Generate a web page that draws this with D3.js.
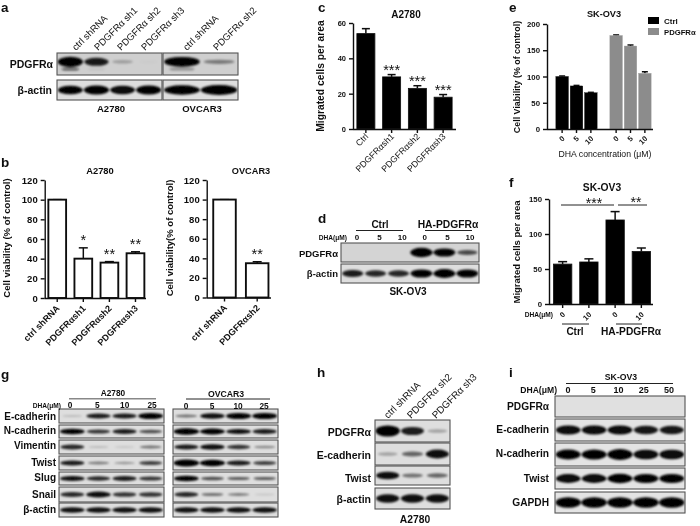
<!DOCTYPE html>
<meta charset="utf-8">
<style>
body{margin:0;background:#fff;}
svg{display:block;}
text{font-family:"Liberation Sans",Arial,sans-serif;fill:#111;}
.b{font-weight:bold;}
.axis path,.axis line{stroke:#111;stroke-width:1.4px;}
.axis text{font-family:"Liberation Sans",Arial,sans-serif;font-weight:bold;fill:#111;}
</style>
<body>
<script src="https://d3js.org/d3.v7.min.js"></script>
<script>
// panel b
var bLabels1=["ctrl shRNA","PDGFRαsh1","PDGFRαsh2","PDGFRαsh3"];
var bValues1=[100,40,36,45.5];
var bErrors1=[0,11,1,1.5];
var bStars1=["","*","**","**"];
var bLabels2=["ctrl shRNA","PDGFRαsh2"];
var bValues2=[100,35];
var bErrors2=[0,1.5];
var bStars2=["","**"];
var bTicks=[0,20,40,60,80,100,120];
// panel c
var cLabels=["Ctrl","PDGFRαsh1","PDGFRαsh2","PDGFRαsh3"];
var cValues=[54,29.5,23,18];
var cErrors=[2.8,1.3,1.5,1.5];
var cStars=["","***","***","***"];
var cTicks=[0,20,40,60];
// panel e
var eDoses=["0","5","10"];
var eCtrl=[100,82,69];
var eCtrlErr=[1,1,0.8];
var ePdgfr=[178,158,106];
var ePdgfrErr=[1.2,2,3];
var eTicks=[0,50,100,150,200];
// panel f
var fLabels=["0","10","0 ","10 "];
var fValues=[57,60,120,75];
var fErrors=[3.5,4.5,12,5];
var fTicks=[0,50,100,150];
// blots, band strength per lane
var aRows=["PDGFRα","β-actin"];
var aPdgfr1=[.95,.8,.22,.02];
var aPdgfr1Low=[.6,.06,0,0];
var aActin1=[.9,.92,.88,.92];
var aPdgfr2=[.92,.38];
var aPdgfr2Low=[.3,0];
var aActin2=[.95,1];
var dPdgfr=[0,0,0,1,.9,.6];
var dActin=[.8,.75,.75,.9,.95,.9];
var gRows=["E-cadherin","N-cadherin","Vimentin","Twist","Slug","Snail","β-actin"];
var gA2780=[[.15,.8,.8,.9],[.9,.7,.8,.6],[.75,.15,.1,.45],[.8,.4,.3,.65],[.85,.75,.8,.7],[.75,.85,.7,.7],[.85,.85,.85,.85]];
var gOvcar=[[.45,.85,.9,.9],[1,.92,.85,.8],[.8,.85,.7,.35],[1,.95,.8,.65],[.9,.6,.55,.55],[.75,.45,.4,.1],[.85,.85,.85,.85]];
var gDoses=["0","5","10","25"];
var hRows=["PDGFRα","E-cadherin","Twist","β-actin"];
var hBands=[[1,.8,.25],[.25,.5,.85],[.85,.45,.5],[.85,.85,.85]];
var iRows=["PDGFRα","E-cadherin","N-cadherin","Twist","GAPDH"];
var iBands=[[0,0,0,0,0],[.88,.88,.88,.82,.82],[.9,.92,.96,.88,.88],[.88,.88,.92,.9,.9],[1,1,1,1,1]];
var iDoses=["0","5","10","25","50"];

var svg=d3.select("body").append("svg").attr("width",700).attr("height",526);
var defs=svg.append("defs");
defs.append("filter").attr("id","soft").append("feGaussianBlur").attr("stdDeviation",.35);
defs.append("filter").attr("id","band").attr("x","-30%").attr("y","-100%").attr("width","160%").attr("height","300%")
  .append("feGaussianBlur").attr("stdDeviation",1);
var root=svg.append("g").attr("filter","url(#soft)");

function label(x,y,s,size,bold,anchor,rot){
  var t=root.append("text").attr("font-size",size).attr("text-anchor",anchor||"middle").text(s);
  if(bold) t.attr("class","b");
  if(rot!=null) t.attr("transform","translate("+x+","+y+") rotate("+rot+")");
  else t.attr("x",x).attr("y",y);
  return t;
}
function rule(x1,x2,y,col,w){
  root.append("line").attr("x1",x1).attr("x2",x2).attr("y1",y).attr("y2",y)
    .attr("stroke",col||"#222").attr("stroke-width",w||1);
}

var clipN=0;
function blot(x0,x1,y0,y1,bands,lower,bg){
  var id="clip"+(clipN++);
  defs.append("clipPath").attr("id",id).append("rect").attr("x",x0).attr("y",y0).attr("width",x1-x0).attr("height",y1-y0);
  root.append("rect").attr("x",x0).attr("y",y0).attr("width",x1-x0).attr("height",y1-y0).attr("fill",bg||"#dedede");
  var x=d3.scaleBand().domain(d3.range(bands.length)).range([x0,x1]).padding(.02);
  var h=y1-y0, g=root.append("g").attr("clip-path","url(#"+id+")").append("g").attr("filter","url(#band)");
  var mid=y0+h*(lower?.4:.5);
  function half(d){ return h*(.07+.18*d*d); }
  function wid(d){ return x.bandwidth()*(.75+.25*d); }
  g.selectAll("rect.up").data(bands).join("rect").attr("class","up")
    .attr("x",function(d,i){return x(i)+(x.bandwidth()-wid(d))/2;})
    .attr("width",wid)
    .attr("y",function(d){return mid-half(d);})
    .attr("height",function(d){return 2*half(d);})
    .attr("rx",function(d){return wid(d)/2;})
    .attr("ry",function(d){return half(d);})
    .attr("fill","#050505").attr("opacity",function(d){return Math.min(1,d*1.1);});
  if(lower) g.selectAll("rect.low").data(lower).join("rect").attr("class","low")
    .attr("x",function(d,i){return x(i)+x.bandwidth()*.15;})
    .attr("width",x.bandwidth()*.7)
    .attr("y",y0+h*.66).attr("height",h*.14).attr("rx",6).attr("ry",1.5)
    .attr("fill","#111").attr("opacity",function(d){return d;});
  root.append("rect").attr("x",x0).attr("y",y0).attr("width",x1-x0).attr("height",y1-y0)
    .attr("fill","none").attr("stroke","#555").attr("stroke-width",1.1);
}

function yAxis(x,scale,ticks,size){
  var g=root.append("g").attr("class","axis").attr("transform","translate("+x+",0)")
    .call(d3.axisLeft(scale).tickValues(ticks).tickSize(4).tickSizeOuter(0).tickPadding(3));
  g.selectAll("text").attr("font-size",size);
  return g;
}
function xAxis(y,scale,size,x0,x1,dx,dy,weight){
  var g=root.append("g").attr("class","axis").attr("transform","translate(0,"+y+")")
    .call(d3.axisBottom(scale).tickSize(4).tickSizeOuter(0));
  g.select(".domain").remove();
  g.selectAll("text").attr("font-size",size).attr("text-anchor","end")
    .attr("x",0).attr("y",0).attr("dy",0).style("font-weight",weight||"bold")
    .attr("transform","translate("+dx+","+dy+") rotate(-45)");
  if(x0!=null) g.append("line").attr("x1",x0).attr("x2",x1).attr("y1",.5).attr("y2",.5);
  return g;
}
function bars(x,y,base,cats,vals,errs,fill,stroke,sw,stars,capW,starOff){
  root.append("g").selectAll("line").data(vals).join("line")
    .attr("x1",function(d,i){return x(cats[i])+x.bandwidth()/2;})
    .attr("x2",function(d,i){return x(cats[i])+x.bandwidth()/2;})
    .attr("y1",function(d){return y(d);})
    .attr("y2",function(d,i){return y(d+errs[i]);})
    .attr("stroke","#111").attr("stroke-width",1.5);
  root.append("g").selectAll("line").data(vals).join("line")
    .attr("x1",function(d,i){return x(cats[i])+x.bandwidth()/2-capW;})
    .attr("x2",function(d,i){return x(cats[i])+x.bandwidth()/2+capW;})
    .attr("y1",function(d,i){return y(d+errs[i]);})
    .attr("y2",function(d,i){return y(d+errs[i]);})
    .attr("stroke","#111").attr("stroke-width",1.5);
  root.append("g").selectAll("rect").data(vals).join("rect")
    .attr("x",function(d,i){return x(cats[i]);})
    .attr("width",x.bandwidth())
    .attr("y",function(d){return y(d);})
    .attr("height",function(d){return base-y(d);})
    .attr("fill",fill).attr("stroke",stroke).attr("stroke-width",sw);
  if(stars) root.append("g").selectAll("text").data(vals).join("text")
    .attr("font-size",14.5).attr("text-anchor","middle")
    .attr("x",function(d,i){return x(cats[i])+x.bandwidth()/2;})
    .attr("y",function(d,i){return y(d+errs[i])-starOff;})
    .text(function(d,i){return stars[i];});
}

// panel letters
[["a",1,12],["b",1,167],["c",318,12],["d",318,223],["e",509,12],["f",509,187],["g",1,379],["h",317,377],["i",509,377]]
  .forEach(function(d){ label(d[1],d[2],d[0],13.5,true,"start"); });

// a
blot(57,162,53,75,aPdgfr1,aPdgfr1Low,"#cfcfcf");
blot(57,162,80,100,aActin1);
blot(163,238,53,75,aPdgfr2,aPdgfr2Low,"#cfcfcf");
blot(163,238,80,100,aActin2);
label(53,68,aRows[0],10.5,true,"end");
label(52,94,aRows[1],10.5,true,"end");
label(111,112,"A2780",9.5,true);
label(202,112,"OVCAR3",9.5,true);
[[76,"ctrl shRNA"],[98,"PDGFRα sh1"],[121,"PDGFRα sh2"],[145,"PDGFRα sh3"],[187,"ctrl shRNA"],[217,"PDGFRα sh2"]]
  .forEach(function(d){ label(d[0],51,d[1],9.5,false,"start",-45); });

// b
var by1=d3.scaleLinear().domain([0,120]).range([298,180]);
var bx1=d3.scaleBand().domain(bLabels1).range([44.7,148]).paddingInner(.32).paddingOuter(.14);
bars(bx1,by1,298,bLabels1,bValues1,bErrors1,"#fff","#111",1.9,bStars1,4.5,3);
yAxis(44.7,by1,bTicks,9.5);
xAxis(298,bx1,9,44.7,146,3,11);
label(10,238,"Cell viability (% of control)",9.5,true,"middle",-90);
label(100,174,"A2780",9.4,true);
var by2=d3.scaleLinear().domain([0,120]).range([297.5,180]);
var bx2=d3.scaleBand().domain(bLabels2).range([206.7,275]).paddingInner(.31).paddingOuter(.2);
bars(bx2,by2,297.5,bLabels2,bValues2,bErrors2,"#fff","#111",1.9,bStars2,4.5,3);
yAxis(206.7,by2,bTicks,9.5);
xAxis(297.5,bx2,9,206.7,271,3,11);
label(173,238,"Cell viability(% of control)",9.5,true,"middle",-90);
label(251,174,"OVCAR3",9.2,true);

// c
var cy=d3.scaleLinear().domain([0,60]).range([129,23]);
var cx=d3.scaleBand().domain(cLabels).range([353,456]).paddingInner(.3).paddingOuter(.15);
bars(cx,cy,129,cLabels,cValues,cErrors,"#000","#111",.8,cStars,4,0);
yAxis(353,cy,cTicks,7.5);
xAxis(129,cx,8.8,353,456,3,8,"normal");
label(324,76,"Migrated cells per area",10.3,true,"middle",-90);
label(406,18,"A2780",10,true);

// d
blot(341,479,243,262,dPdgfr,null,"#d4d4d4");
blot(341,479,264,283,dActin);
label(338,257,"PDGFRα",9.5,true,"end");
label(338,277,"β-actin",9.5,true,"end");
label(347,240,"DHA(μM)",6.6,true,"end");
var dLanes=d3.scalePoint().domain(d3.range(6)).range([357,470]);
["0","5","10","0","5","10"].forEach(function(s,i){ label(dLanes(i),240,s,8,true); });
label(380,228,"Ctrl",10,true); rule(356,403,230.5);
label(448,228,"HA-PDGFRα",10.3,true); rule(425,472,230.5);
label(408,295,"SK-OV3",10,true);

// e
var ey=d3.scaleLinear().domain([0,200]).range([129,24]);
var ex1=d3.scaleBand().domain(eDoses).range([554,599]).padding(.13);
var ex2=d3.scaleBand().domain(eDoses).range([608,653]).padding(.13);
bars(ex1,ey,129,eDoses,eCtrl,eCtrlErr,"#000","#111",.4,null,3,0);
bars(ex2,ey,129,eDoses,ePdgfr,ePdgfrErr,"#8c8c8c","#999",.4,null,3,0);
yAxis(547,ey,eTicks,7.8);
xAxis(129,ex1,7.5,547,653,3,10);
xAxis(129,ex2,7.5,null,null,3,10);
label(520,77,"Cell Viability (% of control)",8.9,true,"middle",-90);
label(604,17,"SK-OV3",9.2,true);
label(605,157,"DHA concentration (μM)",8.7,false);
root.append("rect").attr("x",648).attr("y",17).attr("width",11).attr("height",7).attr("fill","#000");
root.append("rect").attr("x",648).attr("y",28).attr("width",11).attr("height",7).attr("fill","#8c8c8c");
label(664,24,"Ctrl",8,true,"start");
label(664,35,"PDGFRα",7.7,true,"start");

// f
var fy=d3.scaleLinear().domain([0,150]).range([304,199]);
var fx=d3.scaleBand().domain(fLabels).range([549,655]).paddingInner(.3).paddingOuter(.17);
bars(fx,fy,304,fLabels,fValues,fErrors,"#000","#111",.8,null,4.5,0);
yAxis(549,fy,fTicks,7.8);
xAxis(304,fx,7.5,549,653,3,11);
label(520,252,"Migrated cells per area",9.5,true,"middle",-90);
label(602,191,"SK-OV3",10.3,true);
rule(561,614,205); rule(618,647,205);
label(594,208,"***",14); label(636,207,"**",14);
label(553,317,"DHA(μM)",6.6,true,"end");
rule(562,589,324); rule(616,642,324);
label(575,335,"Ctrl",10,true); label(631,335,"HA-PDGFRα",10.2,true);

// g
var gTops=[409,425,440,456,472,487,503], gBots=[423,438,454,470,485,502,517], gTexts=[420,434,449,466,481,498,513];
gRows.forEach(function(r,i){
  blot(59,164,gTops[i],gBots[i],gA2780[i]);
  blot(173,278,gTops[i],gBots[i],gOvcar[i]);
  label(56,gTexts[i],r,10,true,"end");
});
label(113,396,"A2780",8.3,true); rule(69,156,398.7,"#888",1.4);
label(226,397,"OVCAR3",8.7,true); rule(186,270,399);
label(61,408,"DHA(μM)",6.6,true,"end");
var gx1=d3.scalePoint().domain(gDoses).range([70,152]);
var gx2=d3.scalePoint().domain(gDoses).range([186,264]);
gDoses.forEach(function(s){ label(gx1(s),408,s,8.3,true); label(gx2(s),409,s,8.3,true); });

// h
var hTops=[420,443,466,488], hBots=[442,465,485,509];
hRows.forEach(function(r,i){
  blot(375,450,hTops[i],hBots[i],hBands[i]);
  label(371,hTops[i]+(i==3?15:16),r,10.5,true,"end");
});
[[388,"ctrl shRNA"],[411,"PDGFRα sh2"],[436,"PDGFRα sh3"]]
  .forEach(function(d){ label(d[0],419,d[1],9.8,false,"start",-45); });
label(415,523,"A2780",10.3,true);

// i
var iTops=[396,419,443,468,492], iBots=[417,441,466,489,513];
iRows.forEach(function(r,i){
  blot(555,685,iTops[i],iBots[i],iBands[i],null,i==0?"#e0e0e0":"#e4e4e4");
  label(549,iTops[i]+14,r,10.2,true,"end");
});
label(621,380,"SK-OV3",8.7,true); rule(566,673,383.5);
label(557,393,"DHA(μM)",8.6,true,"end");
var ix=d3.scalePoint().domain(iDoses).range([568,669]);
iDoses.forEach(function(s){ label(ix(s),393,s,9,true); });
</script>
</body>
